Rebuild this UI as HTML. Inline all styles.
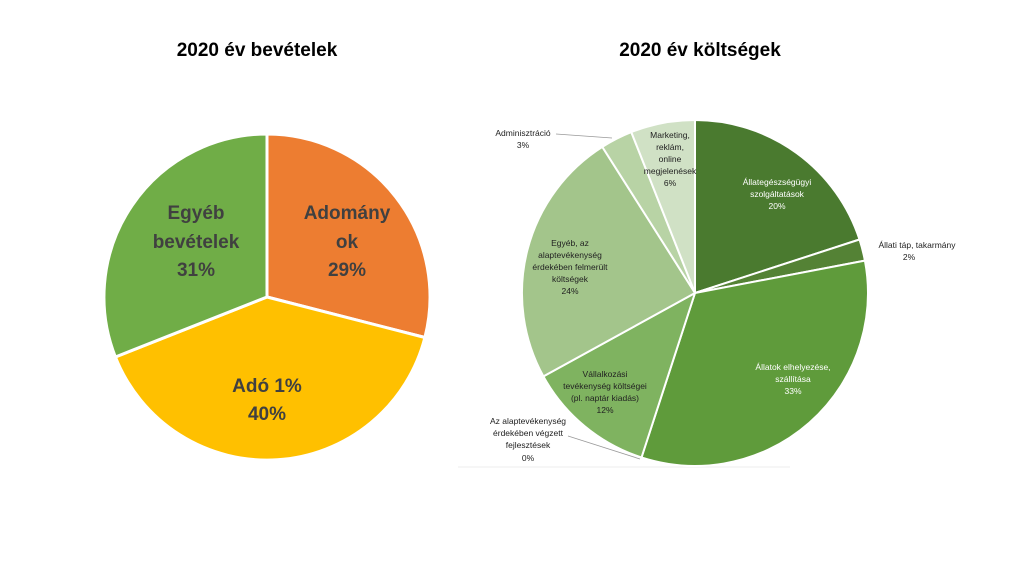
<!DOCTYPE html>
<html><head><meta charset="utf-8"><style>
body{margin:0;background:#fff;}
svg{display:block;font-family:"Liberation Sans",sans-serif;}
</style></head><body>
<svg width="1024" height="576" viewBox="0 0 1024 576">
<rect width="1024" height="576" fill="#fff"/>
<text x="257" y="56" font-size="19" font-weight="bold" text-anchor="middle" fill="#000">2020 év bevételek</text>
<text x="700" y="56" font-size="19" font-weight="bold" text-anchor="middle" fill="#000">2020 év költségek</text>
<g stroke="#fff" stroke-width="3" stroke-linejoin="round">
<path d="M267,297 L267,134 A163,163 0 0 1 424.9,337.5 Z" fill="#ED7D31"/>
<path d="M267,297 L424.9,337.5 A163,163 0 0 1 115.4,357 Z" fill="#FFC000"/>
<path d="M267,297 L115.4,357 A163,163 0 0 1 267,134 Z" fill="#70AD47"/>
</g>
<g font-size="19" font-weight="bold" fill="#404040" text-anchor="middle">
<text x="347" y="219">Adomány</text><text x="347" y="248">ok</text><text x="347" y="276">29%</text>
<text x="196" y="219">Egyéb</text><text x="196" y="248">bevételek</text><text x="196" y="276">31%</text>
<text x="267" y="392">Adó 1%</text><text x="267" y="420">40%</text>
</g>
<line x1="458" y1="467" x2="790" y2="467" stroke="#eee" stroke-width="1"/>
<g stroke="#fff" stroke-width="2" stroke-linejoin="round">
<path d="M695,293 L695,120 A173,173 0 0 1 859.5,239.5 Z" fill="#4A7A2F"/>
<path d="M695,293 L859.5,239.5 A173,173 0 0 1 864.9,260.6 Z" fill="#548235"/>
<path d="M695,293 L864.9,260.6 A173,173 0 0 1 641.5,457.5 Z" fill="#5F9B3B"/>
<path d="M695,293 L641.5,457.5 A173,173 0 0 1 543.4,376.4 Z" fill="#7FB360"/>
<path d="M695,293 L543.4,376.4 A173,173 0 0 1 602.3,146.9 Z" fill="#A3C58B"/>
<path d="M695,293 L602.3,146.9 A173,173 0 0 1 631.3,132.1 Z" fill="#B8D3A5"/>
<path d="M695,293 L631.3,132.1 A173,173 0 0 1 695,120 Z" fill="#D0E1C5"/>
</g>
<g fill="none" stroke="#999" stroke-width="0.8">
<polyline points="556,134 612,138"/>
<polyline points="568,436 640,459"/>
</g>
<g font-size="8.5" text-anchor="middle" fill="#fff">
<text x="777" y="185">Állategészségügyi</text><text x="777" y="197">szolgáltatások</text><text x="777" y="209">20%</text>
<text x="793" y="370">Állatok elhelyezése,</text><text x="793" y="382">szállítása</text><text x="793" y="394">33%</text>
</g>
<g font-size="8.5" text-anchor="middle" fill="#222">
<text x="670" y="138">Marketing,</text><text x="670" y="150">reklám,</text><text x="670" y="162">online</text><text x="670" y="174">megjelenések</text><text x="670" y="186">6%</text>
<text x="523" y="136">Adminisztráció</text><text x="523" y="148">3%</text>
<text x="570" y="246">Egyéb, az</text><text x="570" y="258">alaptevékenység</text><text x="570" y="270">érdekében felmerült</text><text x="570" y="282">költségek</text><text x="570" y="294">24%</text>
<text x="605" y="377">Vállalkozási</text><text x="605" y="389">tevékenység költségei</text><text x="605" y="401">(pl. naptár kiadás)</text><text x="605" y="413">12%</text>
<text x="528" y="424">Az alaptevékenység</text><text x="528" y="436">érdekében végzett</text><text x="528" y="448">fejlesztések</text><text x="528" y="461">0%</text>
<text x="917" y="248">Állati táp, takarmány</text><text x="909" y="260">2%</text>
</g>
</svg>
</body></html>
